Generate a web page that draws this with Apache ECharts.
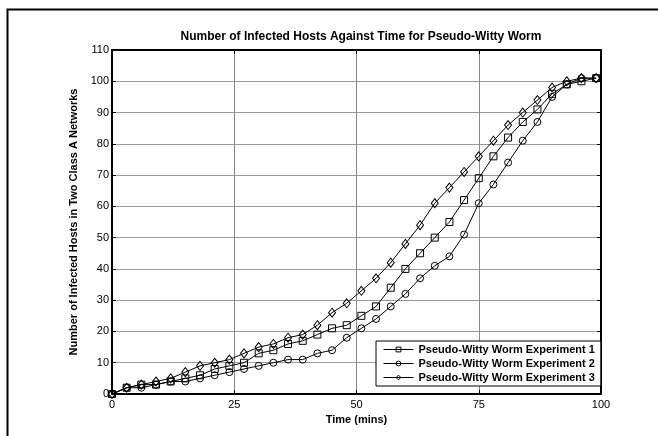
<!DOCTYPE html>
<html>
<head>
<meta charset="utf-8">
<script src="https://cdn.jsdelivr.net/npm/echarts@6/dist/echarts.min.js"></script>
<style>html,body{margin:0;padding:0;background:#fff}#c{width:658px;height:436px}</style>
</head>
<body>
<div id="c"></div>
<script>
var timeMins = [0,3,6,9,12,15,18,21,24,27,30,33,36,39,42,45,48,51,54,57,60,63,66,69,72,75,78,81,84,87,90,93,96,99];
var exp1 = [0,2,3,3,4,5,6,8,9,10,13,14,16,17,19,21,22,25,28,34,40,45,50,55,62,69,76,82,87,91,96,99,100,101];
var exp2 = [0,2,2,3,4,4,5,6,7,8,9,10,11,11,13,14,18,21,24,28,32,37,41,44,51,61,67,74,81,87,95,99,101,101];
var exp3 = [0,2,3,4,5,7,9,10,11,13,15,16,18,19,22,26,29,33,37,42,48,54,61,66,71,76,81,86,90,94,98,100,101,101];
var seriesNames = ['Pseudo-Witty Worm Experiment 1','Pseudo-Witty Worm Experiment 2','Pseudo-Witty Worm Experiment 3'];
var titleText = 'Number of Infected Hosts Against Time for Pseudo-Witty Worm';
var xName = 'Time (mins)';
var yName = 'Number of Infected Hosts in Two Class A Networks';

var FONT = 'Arial, "Liberation Sans", sans-serif';
function pairs(ys){ return timeMins.map(function(x,i){ return [x, ys[i]]; }); }
function mk(name, ys, sym, size){
  return {
    name: name, type: 'line', data: pairs(ys), symbol: sym, symbolSize: size,
    showAllSymbol: true,
    lineStyle: {color: '#000', width: 1},
    itemStyle: {color: 'rgba(255,255,255,0)', borderColor: '#000', borderWidth: 1},
    emphasis: {disabled: true}, animation: false, z: 3
  };
}
var chart = echarts.init(document.getElementById('c'), null, {renderer: 'canvas'});
var axisLine = {show: true, onZero: false, lineStyle: {color: '#000', width: 2}};
chart.setOption({
  animation: false,
  backgroundColor: '#fff',
  title: {text: titleText, left: 356, textAlign: 'center', top: 26,
    textStyle: {fontFamily: FONT, fontSize: 12, fontWeight: 'bold', color: '#000'}},
  grid: {left: 112, right: 57, top: 50, bottom: 42},
  legend: {
    orient: 'vertical', left: 376, top: 341,
    data: seriesNames,
    itemWidth: 30, itemHeight: 6, itemGap: 3,
    padding: [3, 6, 3, 7],
    backgroundColor: '#fff', borderColor: '#000', borderWidth: 1,
    itemStyle: {color: 'rgba(255,255,255,0)', borderColor: '#000', borderWidth: 1},
    lineStyle: {color: '#000', width: 1},
    textStyle: {fontFamily: FONT, fontSize: 11, fontWeight: 'bold', color: '#000'}
  },
  xAxis: [{
    type: 'value', min: 0, max: 100, interval: 25, position: 'bottom',
    name: xName, nameLocation: 'middle', nameGap: 17,
    nameTextStyle: {fontFamily: FONT, fontSize: 11, fontWeight: 'bold', color: '#000'},
    axisLine: axisLine,
    axisTick: {show: true, inside: true, length: 4, lineStyle: {color: '#000'}},
    axisLabel: {fontFamily: FONT, fontSize: 11, color: '#000', margin: 5},
    splitLine: {show: true, lineStyle: {color: '#8a8a8a', width: 1}}
  }, {
    type: 'value', min: 0, max: 100, interval: 25, position: 'top',
    axisLine: axisLine,
    axisTick: {show: true, inside: true, length: 4, lineStyle: {color: '#000'}},
    axisLabel: {show: false}, splitLine: {show: false}
  }],
  yAxis: [{
    type: 'value', min: 0, max: 110, interval: 10, position: 'left',
    name: yName, nameLocation: 'middle', nameGap: 21,
    nameTextStyle: {fontFamily: FONT, fontSize: 11, fontWeight: 'bold', color: '#000'},
    axisLine: axisLine,
    axisTick: {show: true, inside: true, length: 4, lineStyle: {color: '#000'}},
    axisLabel: {fontFamily: FONT, fontSize: 11, color: '#000', margin: 3},
    splitLine: {show: true, lineStyle: {color: '#9a9a9a', width: 1}}
  }, {
    type: 'value', min: 0, max: 110, interval: 10, position: 'right',
    axisLine: axisLine,
    axisTick: {show: true, inside: true, length: 4, lineStyle: {color: '#000'}},
    axisLabel: {show: false}, splitLine: {show: false}
  }],
  graphic: [{
    type: 'rect', left: 5, top: 7, silent: true,
    shape: {x: 0, y: 0, width: 700, height: 500},
    style: {fill: 'none', stroke: '#000', lineWidth: 2}, z: -1
  }],
  series: [
    mk(seriesNames[0], exp1, 'rect', 7),
    mk(seriesNames[1], exp2, 'circle', 7),
    mk(seriesNames[2], exp3, 'diamond', [7, 9])
  ]
});
</script>
</body>
</html>
